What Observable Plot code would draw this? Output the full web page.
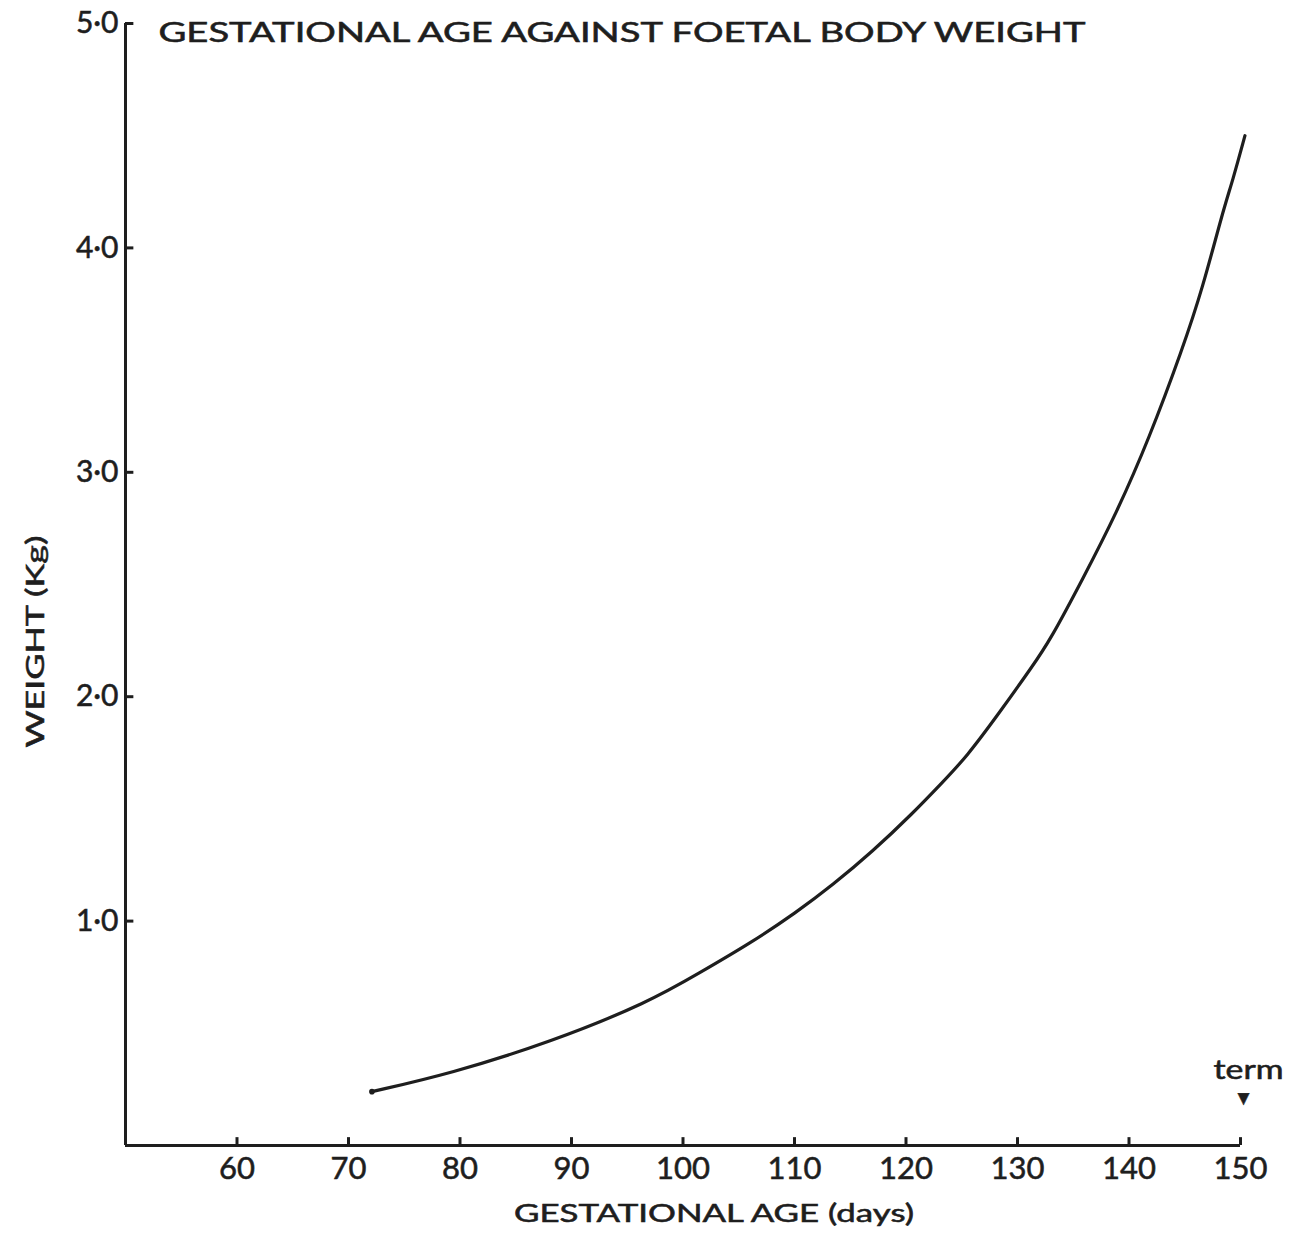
<!DOCTYPE html>
<html><head><meta charset="utf-8">
<script src="https://cdn.jsdelivr.net/npm/d3@7"></script>
<script src="https://cdn.jsdelivr.net/npm/@observablehq/plot@0.6"></script>
<style>
body{margin:0;background:#fff;}
#chart svg text{stroke:#1e1e1e;stroke-width:0.55px;}
</style>
</head><body><div id="chart"></div>
<script>
// Data
const days    = [72.1, 79.1, 88.1, 97.0, 101.5, 106.0, 110.2, 113.4, 117.0, 120.6, 123.3, 125.4, 128.4, 131.4, 132.9, 135.8, 138.9, 141.8, 144.8, 146.6, 148.4, 149.3, 150.4];
const weights = [0.24, 0.32, 0.46, 0.64, 0.77, 0.90, 1.04, 1.16, 1.31, 1.48, 1.62, 1.73, 1.93, 2.14, 2.25, 2.52, 2.82, 3.15, 3.55, 3.82, 4.16, 4.30, 4.50];
const xTicks = [60, 70, 80, 90, 100, 110, 120, 130, 140, 150];
const yTicks = [1, 2, 3, 4, 5];
const xDomain = [50, 150];
const yDomain = [0, 5];
const title = "GESTATIONAL AGE AGAINST FOETAL BODY WEIGHT";
const xLabel = "GESTATIONAL AGE (days)";
const yLabel = "WEIGHT (Kg)";
const termLabel = "term";
const termDay = [150];

const curve = days.map((d, i) => ({day: d, weight: weights[i]}));
const ink = "#1e1e1e";
const fmt = d => d.toFixed(1).replace(".", "·");

const plot = Plot.plot({
  width: 1299, height: 1237,
  marginLeft: 125, marginRight: 59, marginTop: 23, marginBottom: 92,
  x: {domain: xDomain},
  y: {domain: yDomain},
  style: {fontFamily: "Lato, sans-serif", fontSize: "30px", color: ink, background: "#fff"},
  marks: [
    Plot.ruleX([xDomain[0]], {y1: yDomain[0], y2: yDomain[1], stroke: ink, strokeWidth: 3}),
    Plot.ruleY([yDomain[0]], {x1: xDomain[0], x2: xDomain[1], stroke: ink, strokeWidth: 3}),
    Plot.ruleY(yTicks, {y: d => d, x1: xDomain[0], x2: xDomain[0] + 0.75, stroke: ink, strokeWidth: 3}),
    Plot.ruleX(xTicks, {x: d => d, y1: yDomain[0], y2: 0.035, stroke: ink, strokeWidth: 3}),
    Plot.axisX({ticks: xTicks, tickSize: 0, tickPadding: 11, fontSize: 31, label: null}),
    Plot.axisY({ticks: yTicks, tickSize: 0, tickPadding: 7, tickFormat: fmt, fontSize: 30, label: null}),
    Plot.line(curve, {x: "day", y: "weight", curve: "basis", stroke: ink, strokeWidth: 3.2, strokeLinecap: "round"}),
    Plot.dot(curve.slice(0, 1), {x: "day", y: "weight", r: 2.8, fill: ink}),
    Plot.text([title], {frameAnchor: "top-left", dx: 33, dy: 10, textAnchor: "start", lineAnchor: "middle", fontSize: 26, fill: ink}),
    Plot.text([xLabel], {frameAnchor: "bottom", dx: 31, dy: 68, textAnchor: "middle", lineAnchor: "middle", fontSize: 25, fill: ink}),
    Plot.text([yLabel], {frameAnchor: "left", dx: -90, dy: 57, rotate: -90, textAnchor: "middle", lineAnchor: "middle", fontSize: 25, fill: ink}),
    Plot.text(termDay, {x: d => d, y: yDomain[0], text: () => termLabel, dx: 8, dy: -75, textAnchor: "middle", lineAnchor: "middle", fontSize: 26, fill: ink}),
    Plot.text(termDay, {x: d => d, y: yDomain[0], text: () => "▼", dx: 3, dy: -47, textAnchor: "middle", lineAnchor: "middle", fontSize: 15, fontFamily: "DejaVu Sans", fill: ink})
  ]
});

const widths = {[title]: 927, [xLabel]: 400, [yLabel]: 212, [termLabel]: 70};
plot.querySelectorAll("text").forEach(t => {
  const w = widths[t.textContent];
  if (w) { t.setAttribute("textLength", w); t.setAttribute("lengthAdjust", "spacingAndGlyphs"); }
});
document.getElementById("chart").appendChild(plot);
</script>
</body></html>
